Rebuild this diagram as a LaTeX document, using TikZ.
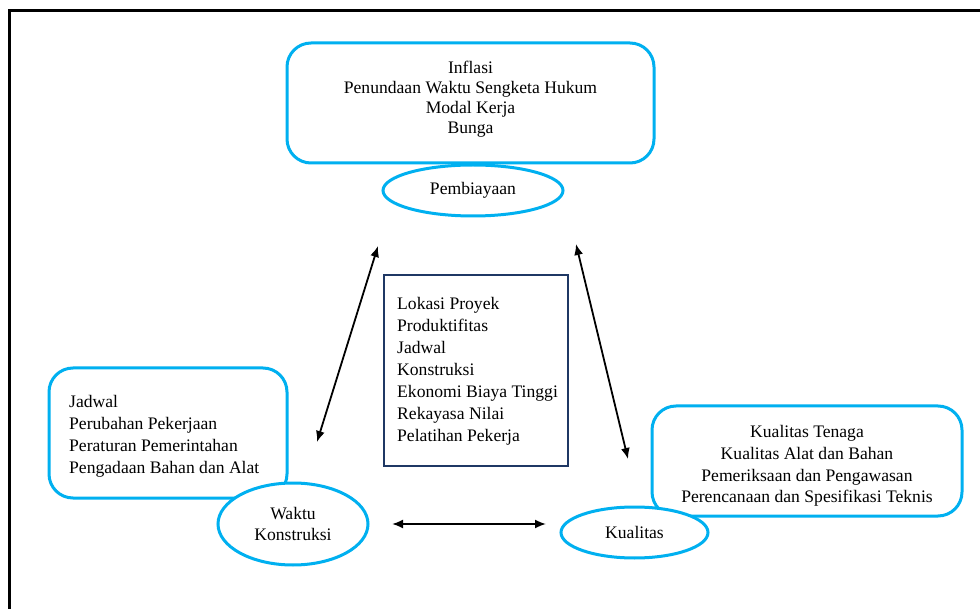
\documentclass[tikz,border=0pt]{standalone}
\usepackage{fontspec}
\setmainfont{Liberation Serif}
\usetikzlibrary{shapes.geometric,arrows.meta}
\definecolor{cyanline}{RGB}{0,176,240}
\definecolor{navyline}{RGB}{31,56,100}
\tikzset{
  cbox/.style={draw=cyanline, line width=3pt, rounded corners=24pt, fill=white, inner sep=0pt},
  cell/.style={ellipse, draw=cyanline, line width=3pt, fill=white, inner sep=0pt, font=\fontsize{17.6}{21}\selectfont, align=center},
  txt/.style={inner sep=0pt, font=\fontsize{17.6}{22}\selectfont},
  dbl/.style={line width=1.8pt, {Latex[length=11pt,width=9pt]}-{Latex[length=11pt,width=9pt]}},
}
\begin{document}
\begin{tikzpicture}[x=1pt,y=-1pt]
\useasboundingbox (0,0) rectangle (980,609);
\fill[white] (0,0) rectangle (980,609);
% frame
\draw[line width=3pt] (9,620) -- (9,11) -- (990,11);
% top
\node[cbox, minimum width=367pt, minimum height=120pt] (topbox) at (470.5,103) {};
\node[txt, align=center, font=\fontsize{17.6}{20}\selectfont] (toptxt) at (470.5,99.5) {Inflasi\\Penundaan Waktu Sengketa Hukum\\Modal Kerja\\Bunga};
\node[cell, minimum width=180pt, minimum height=51pt] (pemb) at (473,190.5) {Pembiayaan};
% center
\node[draw=navyline, line width=2pt, minimum width=184pt, minimum height=191pt, inner sep=0pt] (cbox) at (476,370.5) {};
\node[txt, align=left, anchor=west] (ctxt) at (397,371.5) {Lokasi Proyek\\Produktifitas\\Jadwal\\Konstruksi\\Ekonomi Biaya Tinggi\\Rekayasa Nilai\\Pelatihan Pekerja};
% left
\node[cbox, minimum width=238pt, minimum height=130pt] (lbox) at (168,433) {};
\node[txt, align=left, anchor=west] (ltxt) at (69,436.5) {Jadwal\\Perubahan Pekerjaan\\Peraturan Pemerintahan\\Pengadaan Bahan dan Alat};
\node[cell, minimum width=150pt, minimum height=82pt] (waktu) at (293,524) {Waktu\\Konstruksi};
% right
\node[cbox, minimum width=310pt, minimum height=110pt] (rbox) at (807,461) {};
\node[txt, align=center, font=\fontsize{17.6}{21.7}\selectfont] (rtxt) at (807,466) {Kualitas Tenaga\\Kualitas Alat dan Bahan\\Pemeriksaan dan Pengawasan\\Perencanaan dan Spesifikasi Teknis};
\node[cell, minimum width=147pt, minimum height=51pt] (kual) at (634.5,532.5) {Kualitas};
% arrows
\coordinate (a1) at (378,246);
\coordinate (a2) at (317,442);
\coordinate (b1) at (576,244);
\coordinate (b2) at (628,459);
\coordinate (c1) at (392,524);
\coordinate (c2) at (546,524);
\draw[dbl] (a1) -- (a2);
\draw[dbl] (b1) -- (b2);
\draw[dbl] (c1) -- (c2);
\end{tikzpicture}
\end{document}
